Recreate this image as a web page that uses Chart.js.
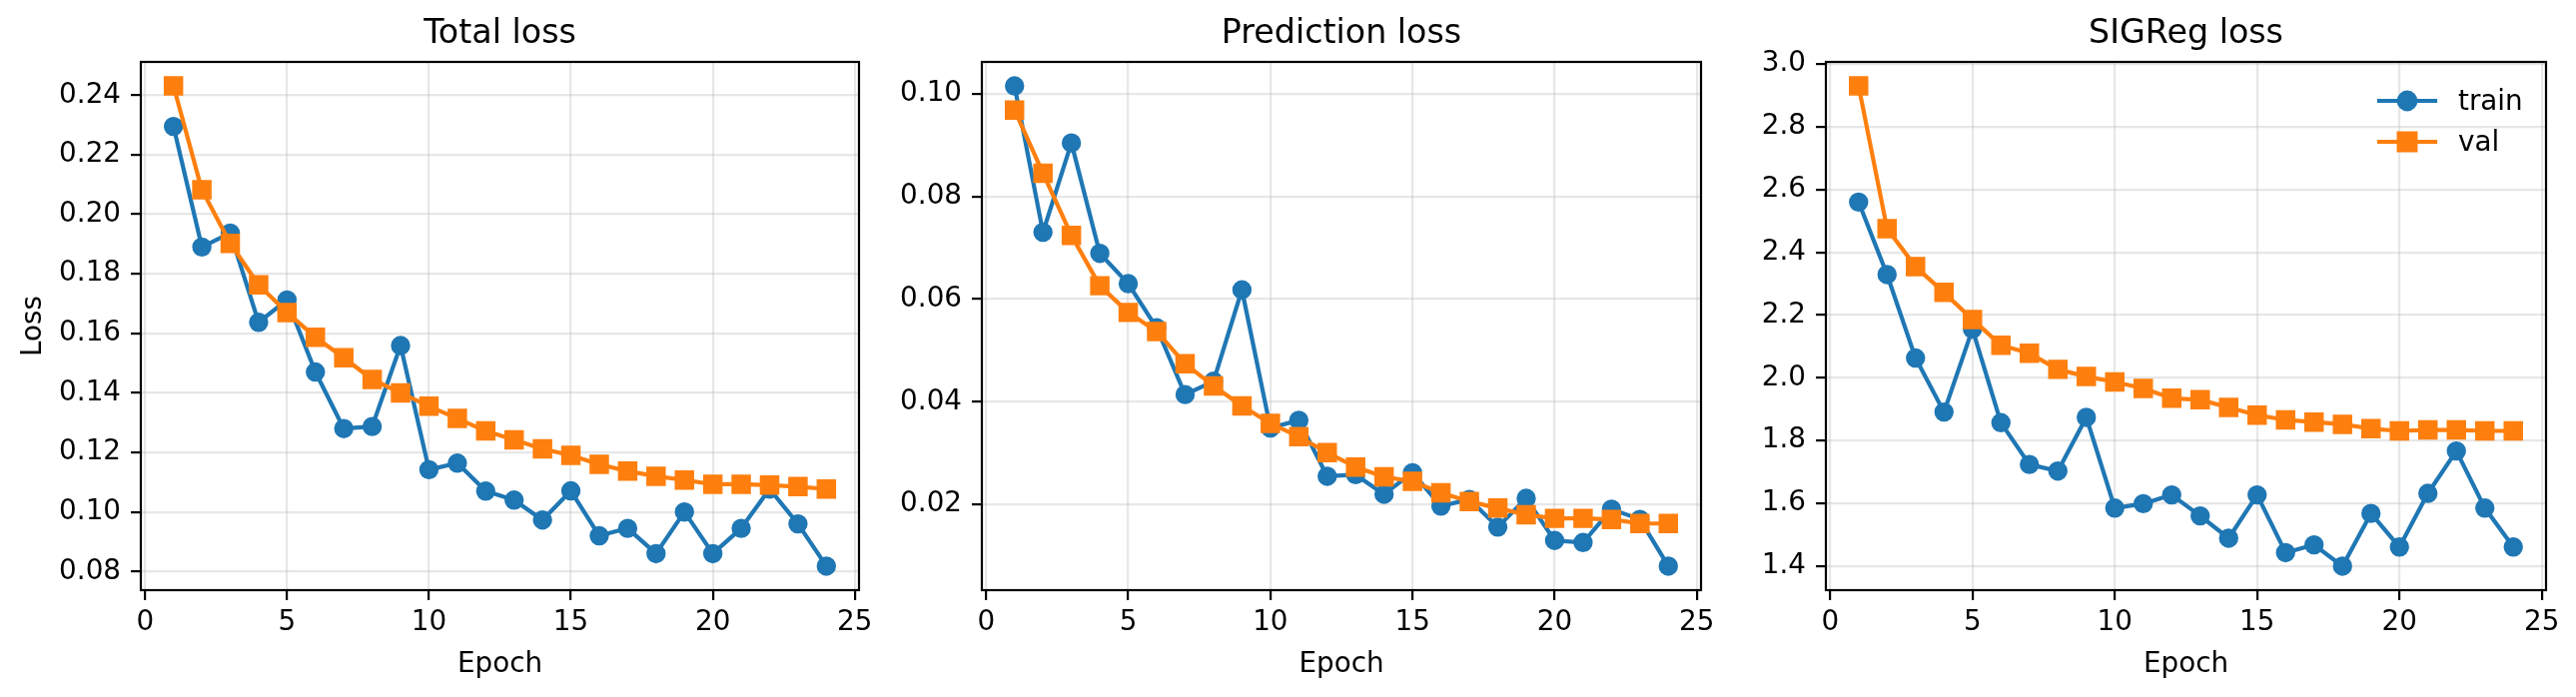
<!DOCTYPE html>
<html>
<head>
<meta charset="utf-8">
<script src="https://cdn.jsdelivr.net/npm/chart.js@4.4.1/dist/chart.umd.min.js"></script>
<style>
  html, body { margin: 0; padding: 0; background: #fff; }
  #wrap { position: relative; width: 2579px; height: 698px; overflow: hidden; }
  canvas { position: absolute; top: 0; }
</style>
</head>
<body>
<div id="wrap">
  <canvas id="total" width="890" height="698" style="left:0px"></canvas>
  <canvas id="pred" width="843" height="698" style="left:890px"></canvas>
  <canvas id="sig" width="846" height="698" style="left:1733px"></canvas>
</div>
<script>
const epochs = [1, 2, 3, 4, 5, 6, 7, 8, 9, 10, 11, 12, 13, 14, 15, 16, 17, 18, 19, 20, 21, 22, 23, 24];

const totalTrain = [0.2295, 0.189, 0.1937, 0.1637, 0.1712, 0.147, 0.128, 0.1287, 0.1559, 0.1142, 0.1164, 0.107,
                    0.104, 0.0973, 0.1071, 0.092, 0.0945, 0.086, 0.100, 0.086, 0.0945, 0.1077, 0.096, 0.0818];
const totalVal = [0.2431, 0.2082, 0.1902, 0.1763, 0.167, 0.1587, 0.1518, 0.1445, 0.140, 0.1355, 0.1314, 0.1272,
                  0.1242, 0.1212, 0.119, 0.116, 0.1137, 0.112, 0.1107, 0.1093, 0.1093, 0.109, 0.1085, 0.1077];

const predTrain = [0.1015, 0.073, 0.0904, 0.0689, 0.063, 0.0544, 0.0414, 0.044, 0.0618, 0.0349, 0.0364, 0.0255,
                   0.0258, 0.022, 0.0262, 0.0197, 0.021, 0.0156, 0.0212, 0.013, 0.0126, 0.0191, 0.0171, 0.008];
const predVal = [0.0968, 0.0845, 0.0724, 0.0626, 0.0574, 0.0537, 0.0474, 0.0431, 0.0392, 0.0358, 0.0332, 0.0301,
                 0.0273, 0.0254, 0.0245, 0.0223, 0.0206, 0.0193, 0.018, 0.0173, 0.0173, 0.0171, 0.0163, 0.0163];

const sigTrain = [2.56, 2.329, 2.063, 1.891, 2.155, 1.857, 1.724, 1.703, 1.874, 1.585, 1.599, 1.627,
                  1.56, 1.489, 1.627, 1.443, 1.468, 1.40, 1.568, 1.461, 1.632, 1.767, 1.585, 1.461];
const sigVal = [2.930, 2.475, 2.354, 2.272, 2.186, 2.104, 2.078, 2.027, 2.004, 1.987, 1.966, 1.935,
                1.930, 1.906, 1.881, 1.866, 1.859, 1.852, 1.838, 1.831, 1.834, 1.834, 1.831, 1.831];

const xTicks = [0, 5, 10, 15, 20, 25];
const totalTicks = [0.08, 0.10, 0.12, 0.14, 0.16, 0.18, 0.20, 0.22, 0.24];
const predTicks = [0.02, 0.04, 0.06, 0.08, 0.10];
const sigTicks = [1.4, 1.6, 1.8, 2.0, 2.2, 2.4, 2.6, 2.8, 3.0];

Chart.defaults.font.family = '"DejaVu Sans", sans-serif';
Chart.defaults.color = '#000';

// top + right spines (left/bottom too, so all four match)
const frame = {
  id: 'frame',
  afterDatasetsDraw(chart) {
    const {ctx, chartArea: a} = chart;
    ctx.save();
    ctx.strokeStyle = '#000';
    ctx.lineWidth = 2.2;
    ctx.strokeRect(a.left, a.top, a.right - a.left, a.bottom - a.top);
    ctx.restore();
  }
};

// matplotlib style legend: line + marker, no frame, upper right inside axes
const lineLegend = {
  id: 'lineLegend',
  afterDatasetsDraw(chart, args, opts) {
    if (!opts.show) return;
    const {ctx, chartArea: a} = chart;
    chart.data.datasets.forEach((ds, i) => {
      const y = a.top + 39 + i * 41;
      const cx = a.right - 139;
      ctx.save();
      ctx.strokeStyle = ds.borderColor;
      ctx.fillStyle = ds.borderColor;
      ctx.lineWidth = ds.borderWidth;
      ctx.lineCap = 'square';
      ctx.beginPath();
      ctx.moveTo(cx - 28, y);
      ctx.lineTo(cx + 28, y);
      ctx.stroke();
      Chart.helpers.drawPoint(ctx, {
        pointStyle: ds.pointStyle,
        radius: ds.pointRadius,
        borderWidth: ds.pointBorderWidth,
        rotation: 0
      }, cx, y);
      ctx.fillStyle = '#000';
      ctx.font = '27.8px "DejaVu Sans"';
      ctx.textBaseline = 'alphabetic';
      ctx.textAlign = 'left';
      ctx.fillText(ds.label, a.right - 88, y + 9);
      ctx.restore();
    });
  }
};

function pad5(a, b) {
  const lo = Math.min(...a, ...b), hi = Math.max(...a, ...b);
  const m = (hi - lo) * 0.05;
  return [lo - m, hi + m];
}

function makeChart(id, title, train, val, yTicks, decimals, yWidth, yLabel, legend) {
  const [ymin, ymax] = pad5(train, val);
  return new Chart(document.getElementById(id), {
    type: 'line',
    data: {
      labels: epochs,
      datasets: [
        {
          label: 'train',
          data: train,
          borderColor: '#1f77b4',
          backgroundColor: '#1f77b4',
          borderWidth: 4.2,
          borderJoinStyle: 'round',
          pointStyle: 'circle',
          pointRadius: 8.3,
          pointBorderWidth: 2.8,
          pointHoverRadius: 8.3,
          order: 2
        },
        {
          label: 'val',
          data: val,
          borderColor: '#ff7f0e',
          backgroundColor: '#ff7f0e',
          borderWidth: 4.2,
          borderJoinStyle: 'round',
          pointStyle: 'rect',
          pointRadius: 11.8,
          pointBorderWidth: 2.8,
          pointHoverRadius: 11.8,
          order: 1
        }
      ]
    },
    options: {
      responsive: false,
      animation: false,
      events: [],
      layout: { padding: { left: 0, top: 0, right: 30, bottom: 0 } },
      scales: {
        x: {
          type: 'linear',
          min: -0.15,
          max: 25.15,
          afterBuildTicks: s => { s.ticks = xTicks.map(v => ({ value: v })); },
          afterFit: s => { s.height = 107; },
          ticks: {
            font: { size: 27.8, lineHeight: 1 },
            padding: 8.5,
            maxRotation: 0,
            callback: v => String(v)
          },
          grid: { color: 'rgba(176,176,176,0.3)', lineWidth: 2.2, tickLength: 10, tickColor: '#000', tickWidth: 2.2 },
          border: { display: false },
          title: { display: true, text: 'Epoch', font: { size: 27.8, lineHeight: 1 }, padding: { top: 0, bottom: 18.7 } }
        },
        y: {
          min: ymin,
          max: ymax,
          afterBuildTicks: s => { s.ticks = yTicks.map(v => ({ value: v })); },
          afterFit: s => { s.width = yWidth; },
          ticks: {
            font: { size: 27.8, lineHeight: 1 },
            padding: 10,
            callback: v => Number(v).toFixed(decimals)
          },
          grid: { color: 'rgba(176,176,176,0.3)', lineWidth: 2.2, tickLength: 10, tickColor: '#000', tickWidth: 2.2 },
          border: { display: false },
          title: { display: !!yLabel, text: yLabel, font: { size: 27.8, lineHeight: 1 }, padding: { top: 20, bottom: 0 } }
        }
      },
      plugins: {
        legend: { display: false },
        tooltip: { enabled: false },
        title: {
          display: true,
          text: title,
          fullSize: false,
          font: { size: 33.3, weight: 'normal', lineHeight: 1 },
          padding: { top: 17.3, bottom: 11.4 }
        },
        lineLegend: { show: legend }
      }
    },
    plugins: [frame, lineLegend]
  });
}

makeChart('total', 'Total loss', totalTrain, totalVal, totalTicks, 2, 141, 'Loss', false);
makeChart('pred', 'Prediction loss', predTrain, predVal, predTicks, 2, 93, '', false);
makeChart('sig', 'SIGReg loss', sigTrain, sigVal, sigTicks, 1, 95, '', true);
</script>
</body>
</html>
